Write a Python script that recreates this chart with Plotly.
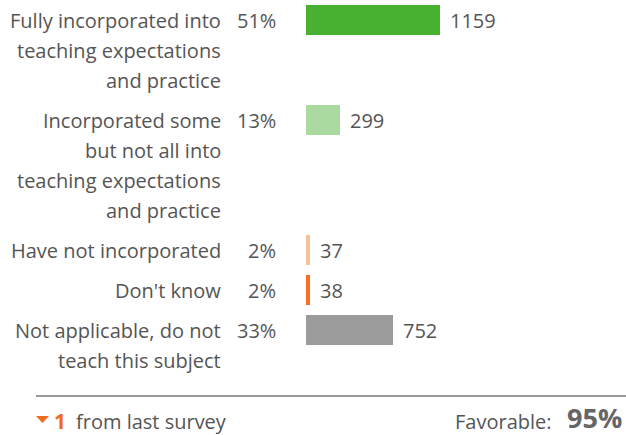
import plotly.graph_objects as go

# Survey responses
categories = [
    "Fully incorporated into<br>teaching expectations<br>and practice",
    "Incorporated some<br>but not all into<br>teaching expectations<br>and practice",
    "Have not incorporated",
    "Don't know",
    "Not applicable, do not<br>teach this subject",
]
counts = [1159, 299, 37, 38, 752]
colors = ["#48B12F", "#ABDAA0", "#F6C196", "#FB6D1F", "#9B9B9B"]
change_from_last = 1
favorable_pct = 95

W, H = 626, 435
FONT = "Open Sans"
TXT = "#555555"
FS = 20
LINE_H = 30      # px per wrapped label line
GAP = 10         # px between response groups
TOP = 5
BAR_LEFT = 306   # px where bars begin
PX_PER_UNIT = 0.1153

total = sum(counts)
pcts = [round(100 * c / total) for c in counts]

# vertical layout: each group is as tall as its wrapped label
lines = [c.split("<br>") for c in categories]
starts = []
y = TOP
for ln in lines:
    starts.append(y)
    y += LINE_H * len(ln) + GAP
centers = [s + LINE_H / 2 for s in starts]

fig = go.Figure(
    go.Bar(
        x=counts,
        y=centers,
        orientation="h",
        width=LINE_H,
        marker=dict(color=colors, line=dict(width=0)),
        hoverinfo="skip",
    )
)


def label(x, y, text, xref="paper", anchor="right", size=FS, color=TXT, **kw):
    return dict(xref=xref, yref="y", x=x, y=y, text=text, showarrow=False,
                xanchor=anchor, yanchor="middle", borderpad=0,
                font=dict(family=FONT, size=size, color=color), **kw)


ann = []
for ln, s, p, c, cy in zip(lines, starts, pcts, counts, centers):
    for i, t in enumerate(ln):
        ann.append(label(222 / W, s + LINE_H / 2 + i * LINE_H, t))
    ann.append(label(277 / W, cy, f"{p}%"))
    ann.append(label(c, cy, str(c), xref="x", anchor="left", xshift=9))

# footer
ann += [
    label(53 / W, 421, "<b>%d</b>" % change_from_last, anchor="left", size=21, color="#F26B21"),
    label(75 / W, 421, "from last survey", anchor="left"),
    label(623 / W, 417, "<b>%d%%</b>" % favorable_pct, size=27, color="#666666"),
    label(553 / W, 421, "Favorable:"),
]

shapes = [
    dict(type="line", xref="paper", yref="y", x0=36 / W, x1=1, y0=396, y1=396,
         line=dict(color="#999999", width=2)),
    dict(type="path", xref="paper", yref="y",
         path=f"M {36/W},416 L {49/W},416 L {42.5/W},423 Z",
         fillcolor="#F26B21", line=dict(width=0)),
]

fig.update_layout(
    width=W, height=H,
    margin=dict(l=0, r=0, t=0, b=0),
    paper_bgcolor="white", plot_bgcolor="white",
    showlegend=False,
    bargap=0,
    xaxis=dict(domain=[BAR_LEFT / W, 1], range=[0, (W - BAR_LEFT) / PX_PER_UNIT],
               visible=False, fixedrange=True),
    yaxis=dict(range=[H, 0], visible=False, fixedrange=True),
    annotations=ann,
    shapes=shapes,
)

fig.write_html("out.html")
